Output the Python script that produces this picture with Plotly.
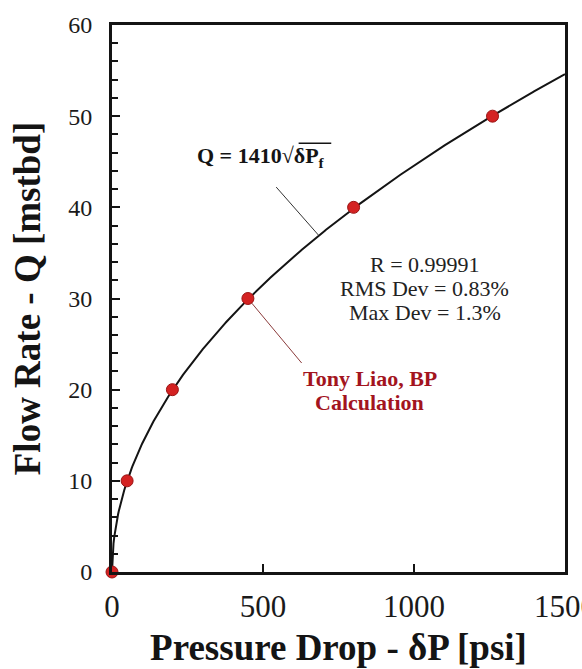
import numpy as np
import plotly.graph_objects as go

# Measured points (pressure drop in psi, flow rate in mstbd)
dp_points = [0, 50, 200, 450, 800, 1260]
q_points = [0, 10, 20, 30, 40, 50]

# Fitted model Q = C * sqrt(dP), Q in bbl/d -> mstbd
coef = 1410
dp_curve = np.linspace(0, 1500, 601)
q_curve = coef * np.sqrt(dp_curve) / 1000.0

x_ticks = [0, 500, 1000, 1500]
y_ticks = [0, 10, 20, 30, 40, 50, 60]

stats_lines = ["R = 0.99991", "RMS Dev = 0.83%", "Max Dev = 1.3%"]
source_lines = ["Tony Liao, BP", "Calculation"]

serif = "Liberation Serif, Times New Roman, serif"
ink = "#141414"
red_text = "#a3141e"

fig = go.Figure()
fig.add_trace(go.Scatter(x=dp_curve, y=q_curve, mode="lines",
                         line=dict(color=ink, width=2), hoverinfo="skip"))
fig.add_trace(go.Scatter(x=dp_points, y=q_points, mode="markers",
                         marker=dict(size=12, color="#d42222",
                                     line=dict(color="#9a1414", width=1)),
                         cliponaxis=False))

# Equation label and its leader line to the curve
dp_eq = 685
fig.add_annotation(x=dp_eq, y=coef * np.sqrt(dp_eq) / 1000.0, text="",
                   showarrow=True, arrowhead=0, arrowwidth=1, arrowcolor="#333333",
                   ax=-44, ay=-50)
fig.add_annotation(x=0.183, y=0.759, xref="paper", yref="paper",
                   xanchor="left", yanchor="middle", showarrow=False,
                   text="<b>Q = 1410√δP<sub>f</sub></b>",
                   font=dict(family=serif, size=22, color=ink))
# vinculum of the square root
fig.add_shape(type="line", xref="paper", yref="paper",
              x0=0.412, x1=0.484, y0=0.784, y1=0.784,
              line=dict(color=ink, width=1.5))

# Source label and its leader line to the 30 mstbd point
fig.add_annotation(x=dp_points[3], y=q_points[3], text="",
                   showarrow=True, arrowhead=0, arrowwidth=1, arrowcolor="#8a3a3a",
                   ax=55, ay=66, standoff=6)
for i, line in enumerate(source_lines):
    fig.add_annotation(x=854, y=21.28, yshift=-24 * i, showarrow=False,
                       text=f"<b>{line}</b>", xanchor="center", yanchor="middle",
                       font=dict(family=serif, size=22, color=red_text))

# Fit statistics
for i, line in enumerate(stats_lines):
    fig.add_annotation(x=1036, y=33.7, yshift=-24 * i, showarrow=False,
                       text=line, xanchor="center", yanchor="middle",
                       font=dict(family=serif, size=22, color="#222222"))

fig.update_layout(
    width=582, height=669,
    margin=dict(l=112, r=17, t=25, b=97),
    paper_bgcolor="white", plot_bgcolor="white",
    showlegend=False,
    font=dict(family=serif, color="#1a1a1a"),
)
fig.update_xaxes(
    range=[0, 1500], tickvals=x_ticks, ticktext=[str(v) for v in x_ticks],
    ticks="inside", ticklen=8, tickwidth=1.5, tickcolor=ink,
    showline=True, linewidth=3, linecolor=ink, mirror=True,
    showgrid=False, zeroline=False, automargin=False,
    ticklabeloverflow="allow",
    tickfont=dict(family=serif, size=31, color="#1a1a1a"), ticklabelstandoff=5,
    title=dict(text="<b>Pressure Drop - δP [psi]</b>", standoff=11,
               font=dict(family=serif, size=37, color=ink)),
)
fig.update_yaxes(
    range=[0, 60], tickvals=y_ticks, ticktext=[str(v) for v in y_ticks],
    ticks="inside", ticklen=8, tickwidth=1.5, tickcolor=ink,
    minor=dict(dtick=2, ticks="inside", ticklen=6, tickcolor=ink, tickwidth=1.5),
    showline=True, linewidth=3, linecolor=ink, mirror=True,
    showgrid=False, zeroline=False, automargin=False,
    tickfont=dict(family=serif, size=24, color="#1a1a1a"), ticklabelstandoff=12,
    title=dict(text="<b>Flow Rate - Q [mstbd]</b>", standoff=17,
               font=dict(family=serif, size=37, color=ink)),
)

fig.write_html("out.html")
